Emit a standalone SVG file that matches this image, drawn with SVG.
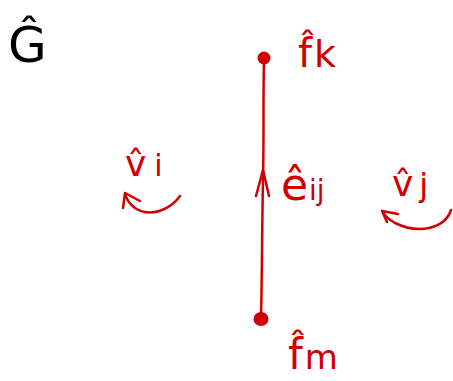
<svg xmlns="http://www.w3.org/2000/svg" width="453" height="381" viewBox="0 0 453 381">
<style>
.lbl{font-family:"DejaVu Sans","Liberation Sans",sans-serif;fill:#d00000}
.ink{fill:none;stroke:#d00000;stroke-width:2.5;stroke-linecap:round;stroke-linejoin:round}
</style>
<rect width="453" height="381" fill="#fff"/>
<g id="graph-label"><text x="8" y="62" font-family="DejaVu Sans,Liberation Sans,sans-serif" font-size="50" fill="#000">Ĝ</text></g>
<g id="connectors">
<path class="ink" d="M264,60 C263,100 264,140 263,180 C262,230 262,280 261,318"/>
<path class="ink" d="M256,196 L263,170 L269,196"/>
<path class="ink" d="M180,196 C170,210 150,218 135,208 C128,203 126,198 125,193 M125,193 L123,208 M125,193 L140,201"/>
<path class="ink" d="M451,210 C445,228 420,235 395,223 C388,219 384,215 382,211 M382,211 L387,222 M382,211 L398,214"/>
</g>
<g id="node-fk"><circle cx="264" cy="58" r="6.5" fill="#d00000"/><text class="lbl" x="298" y="67" font-size="40">f̂<tspan font-size="38" dx="2">k</tspan></text></g>
<g id="node-fm"><ellipse cx="261" cy="319" rx="7.5" ry="7" fill="#d00000"/><text class="lbl" x="288" y="369" font-size="42">f̂<tspan font-size="34" dx="2">m</tspan></text></g>
<g id="node-vi"><text class="lbl" x="125" y="176" font-size="36">v̂<tspan font-size="30" dx="8">i</tspan></text></g>
<g id="node-vj"><text class="lbl" x="392" y="196" font-size="36">v̂<tspan font-size="32" dx="6">j</tspan></text></g>
<g id="edge-label"><text class="lbl" x="281" y="200" font-size="44">ê<tspan font-size="28" dx="1">ij</tspan></text></g>
</svg>
